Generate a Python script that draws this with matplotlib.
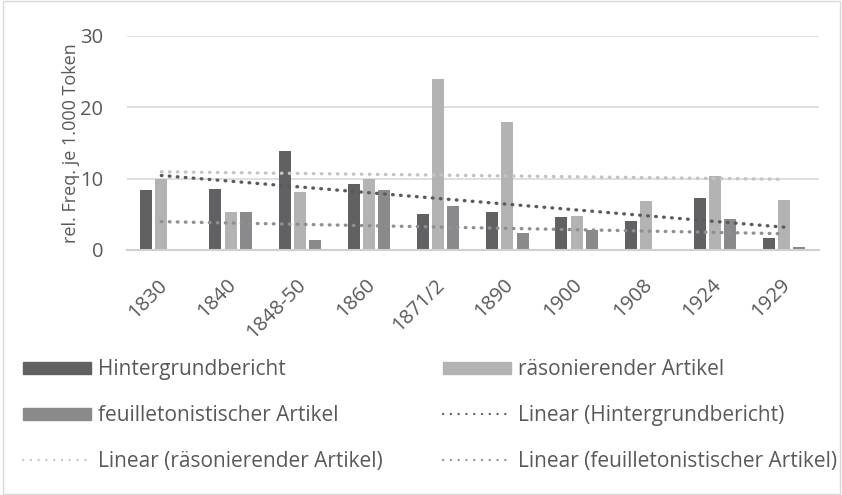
import numpy as np
import matplotlib
matplotlib.use("Agg")
import matplotlib.pyplot as plt
from matplotlib.lines import Line2D
from matplotlib.patches import Patch, Rectangle
from matplotlib.transforms import ScaledTranslation

plt.rcParams['font.family'] = ['Open Sans', 'DejaVu Sans']

years = ["1830", "1840", "1848-50", "1860", "1871/2", "1890", "1900", "1908", "1924", "1929"]
hintergrund = [8.4, 8.6, 13.9, 9.3, 5.0, 5.3, 4.6, 4.0, 7.3, 1.7]
raesonierend = [10.0, 5.3, 8.1, 10.0, 23.9, 17.9, 4.7, 6.9, 10.4, 7.0]
feuilleton = [0.0, 5.3, 1.4, 8.4, 6.2, 2.4, 2.8, 0.0, 4.3, 0.4]

labels = ["Hintergrundbericht", "räsonierender Artikel", "feuilletonistischer Artikel"]
bar_colors = ["#616164", "#b3b3b3", "#8a8a8c"]
trend_colors = ["#5a5a5c", "#c4c4c4", "#8f8f91"]

text_col = "#595959"

fig = plt.figure(figsize=(8.42, 4.95), dpi=100)
ax = fig.add_axes([0.1505, 0.495, 0.822, 0.433])

x = np.arange(len(years))
width = 0.173
step = 0.22
series = [hintergrund, raesonierend, feuilleton]

for i, (vals, c) in enumerate(zip(series, bar_colors)):
    ax.bar(x + (i - 1) * step, vals, width, color=c, zorder=2)

# linear trendlines (like Excel), fitted on category index
for vals, c in zip(series, trend_colors):
    k, d = np.polyfit(x, vals, 1)
    ax.plot(x, k * x + d, color=c, lw=2.4, linestyle=(0, (0.2, 2.2)),
            dash_capstyle="round", zorder=3)

ax.set_xlim(-0.5, len(years) - 0.5)
ax.set_ylim(0, 30)
ax.set_yticks([0, 10, 20, 30])
ax.yaxis.grid(True, color="#d9d9d9", lw=1.2, zorder=0)
for s in ["top", "right", "left"]:
    ax.spines[s].set_visible(False)
ax.spines["bottom"].set_color("#d0d0d0")
ax.spines["bottom"].set_linewidth(1.5)
ax.tick_params(length=0, colors=text_col, labelsize=14.5)
ax.tick_params(axis="y", pad=17)
ax.set_xticks(x)
ax.set_xticklabels(years, rotation=45, ha="right", rotation_mode="anchor")
ax.tick_params(axis="x", pad=11)
shift = ScaledTranslation(-4 / 100, -10 / 100, fig.dpi_scale_trans)
for lab in ax.get_xticklabels():
    lab.set_transform(lab.get_transform() + shift)
ax.set_ylabel("rel. Freq. je 1.000 Token", color=text_col, fontsize=13)
ax.yaxis.set_label_coords(-0.068, 0.5)

dots = (0, (0.1, 3.4))
handles = [
    Patch(color=bar_colors[0], label=labels[0]),
    Patch(color=bar_colors[2], label=labels[2]),
    Line2D([], [], color=trend_colors[1], lw=1.6, ls=dots, dash_capstyle="round",
           label="Linear (" + labels[1] + ")"),
    Patch(color=bar_colors[1], label=labels[1]),
    Line2D([], [], color=trend_colors[0], lw=1.6, ls=dots, dash_capstyle="round",
           label="Linear (" + labels[0] + ")"),
    Line2D([], [], color=trend_colors[2], lw=1.6, ls=dots, dash_capstyle="round",
           label="Linear (" + labels[2] + ")"),
]
leg = fig.legend(handles=handles, ncol=2, loc="upper left", bbox_to_anchor=(0.0175, 0.291),
                 frameon=False, fontsize=15, labelcolor=text_col, handlelength=3.27,
                 handleheight=0.5, handletextpad=0.34, labelspacing=1.19, columnspacing=2.87,
                 borderaxespad=0)

fig.patches.append(Rectangle((0.004, 0.002), 0.994, 0.996, transform=fig.transFigure,
                             fill=False, edgecolor="#d9d9d9", lw=1))

fig.savefig("out.png", dpi=100)
